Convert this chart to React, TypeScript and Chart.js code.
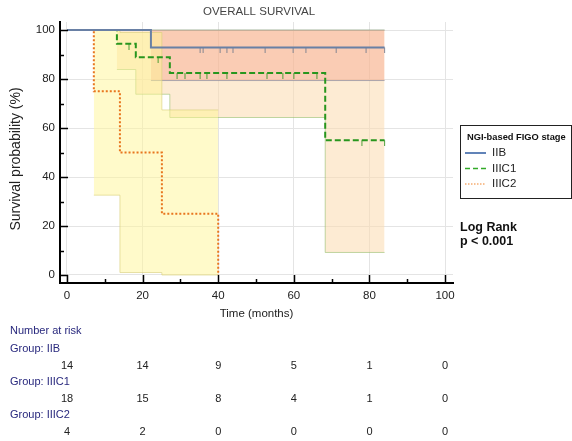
import React, { useEffect, useRef } from "react";
import { Chart, registerables } from "chart.js";
Chart.register(...registerables);

const FONT = "'Liberation Sans', Arial, sans-serif";

// ---- Kaplan–Meier data (time in months, survival in %) ----
const groups = ["IIB", "IIIC1", "IIIC2"];

const iibTimes = [0, 22.2, 84];
const iibSurv = [100, 92.9, 92.9];
const iibCensor = [35.2, 36, 40.5, 42.3, 43.9, 52.4, 59.8, 63.2, 71.2, 79.1, 84];
const iibCiTimes = [22.2, 84];
const iibCiLow = [79.4, 79.4];
const iibCiHigh = [100, 100];

const iiic1Times = [0, 13.2, 18.2, 27.2, 68.3, 84];
const iiic1Surv = [100, 94.4, 88.9, 82.5, 55.0, 55.0];
const iiic1Censor = [16.4, 24.1, 29.1, 31.2, 35.2, 37, 42.3, 52.9, 57.1, 60, 66.1, 78, 84];
const iiic1CiTimes = [13.2, 18.2, 27.2, 68.3, 84];
const iiic1CiLow = [83.9, 73.8, 64.3, 9.2, 9.2];
const iiic1CiHigh = [100, 100, 100, 100, 100];

const iiic2Times = [0, 7.1, 14, 25.1, 40];
const iiic2Surv = [100, 75, 50, 25, 0];
const iiic2CiTimes = [7.1, 14, 25.1, 40];
const iiic2CiLow = [32.6, 1, 0, 0];
const iiic2CiHigh = [100, 99, 67.4, 67.4];

// ---- axes / table ----
const xTicks = [0, 20, 40, 60, 80, 100];
const yTicks = [0, 20, 40, 60, 80, 100];
const riskTimes = [0, 20, 40, 60, 80, 100];
const riskIIB = [14, 14, 9, 5, 1, 0];
const riskIIIC1 = [18, 15, 8, 4, 1, 0];
const riskIIIC2 = [4, 2, 0, 0, 0, 0];

const COL_IIB = "rgb(105,128,165)";
const COL_IIIC1 = "rgb(40,150,30)";
const COL_IIIC2 = "rgb(232,118,30)";

const xy = (xs: number[], ys: number[]) => xs.map((x, i) => ({ x, y: ys[i] }));
const stepValue = (times: number[], surv: number[], t: number) => {
  let v = surv[0];
  for (let i = 0; i < times.length; i++) if (times[i] <= t) v = surv[i];
  return v;
};

function makeTick(color: string) {
  const c = document.createElement("canvas");
  c.width = 3;
  c.height = 12;
  const g = c.getContext("2d")!;
  g.strokeStyle = color;
  g.lineWidth = 1;
  g.beginPath();
  g.moveTo(1.5, 6);
  g.lineTo(1.5, 12);
  g.stroke();
  return c;
}

export default function App() {
  const ref = useRef<HTMLCanvasElement | null>(null);

  useEffect(() => {
    document.body.style.margin = "0";
    const canvas = ref.current!;
    const tickIIB = makeTick("rgba(120,125,140,0.9)");
    const tickIIIC1 = makeTick("rgba(60,150,40,0.9)");

    const line = (label: string, d: any[], color: string, dash: number[]) => ({
      type: "line" as const,
      label,
      data: d,
      borderColor: color,
      borderWidth: 2,
      borderDash: dash,
      stepped: "before" as const,
      pointRadius: 0,
      fill: false,
      order: 0,
    });
    const censor = (d: any[], img: HTMLCanvasElement) => ({
      type: "scatter" as const,
      data: d,
      pointStyle: img,
      pointRadius: 6,
      showLine: false,
      order: 1,
    });
    const bandLow = (d: any[], border: string, order: number) => ({
      type: "line" as const,
      data: d,
      borderColor: border,
      borderWidth: 1,
      stepped: "before" as const,
      pointRadius: 0,
      fill: false,
      order,
    });
    const bandHigh = (d: any[], border: string, bg: string, order: number) => ({
      type: "line" as const,
      data: d,
      borderColor: border,
      borderWidth: 1,
      backgroundColor: bg,
      stepped: "before" as const,
      pointRadius: 0,
      fill: "-1",
      order,
    });

    const overlay = {
      id: "overlay",
      afterDraw(chart: any) {
        const ctx = chart.ctx as CanvasRenderingContext2D;
        const xs = chart.scales.x;
        const ys = chart.scales.y;
        const area = chart.chartArea;
        ctx.save();
        // inward tick marks
        ctx.strokeStyle = "#000";
        ctx.lineWidth = 1.5;
        for (let v = 0; v <= 100; v += 10) {
          const len = v % 20 === 0 ? 8 : 4;
          const px = Math.round(xs.getPixelForValue(v)) + 0.5;
          ctx.beginPath();
          ctx.moveTo(px, area.bottom);
          ctx.lineTo(px, area.bottom - len);
          ctx.stroke();
          const py = Math.round(ys.getPixelForValue(v)) + 0.5;
          ctx.beginPath();
          ctx.moveTo(area.left, py);
          ctx.lineTo(area.left + len, py);
          ctx.stroke();
        }
        // titles
        ctx.fillStyle = "#444";
        ctx.font = `11.5px ${FONT}`;
        ctx.textAlign = "center";
        ctx.textBaseline = "middle";
        ctx.fillText("OVERALL SURVIVAL", 259, 12);
        ctx.fillStyle = "#222";
        ctx.fillText("Time (months)", (area.left + area.right) / 2, 314);
        ctx.save();
        ctx.translate(16, 159);
        ctx.rotate(-Math.PI / 2);
        ctx.font = `14px ${FONT}`;
        ctx.fillText("Survival probability (%)", 0, 0);
        ctx.restore();

        // legend box
        ctx.strokeStyle = "#222";
        ctx.lineWidth = 1;
        ctx.strokeRect(460.5, 125.5, 111, 73);
        ctx.fillStyle = "#111";
        ctx.textAlign = "left";
        ctx.font = `bold 9.3px ${FONT}`;
        ctx.fillText("NGI-based FIGO stage", 467, 137);
        const legCols = ["rgb(45,90,160)", "rgb(50,170,40)", "rgb(240,130,40)"];
        const legDash = [[], [5, 3], [1.5, 1.5]];
        const legW = [1.5, 1.5, 1];
        const legY = [153, 168.5, 184];
        ctx.font = `11.5px ${FONT}`;
        groups.forEach((g, i) => {
          ctx.save();
          ctx.strokeStyle = legCols[i];
          ctx.lineWidth = legW[i];
          ctx.setLineDash(legDash[i]);
          ctx.beginPath();
          ctx.moveTo(465, legY[i]);
          ctx.lineTo(486, legY[i]);
          ctx.stroke();
          ctx.restore();
          ctx.fillStyle = "#222";
          ctx.fillText(g, 492, legY[i]);
        });
        ctx.font = `bold 12.5px ${FONT}`;
        ctx.fillStyle = "#111";
        ctx.fillText("Log Rank", 460, 228);
        ctx.fillText("p < 0.001", 460, 242);

        // number at risk table
        const navy = "rgb(40,40,125)";
        ctx.font = `11px ${FONT}`;
        ctx.fillStyle = navy;
        ctx.fillText("Number at risk", 10, 331);
        const rows = [riskIIB, riskIIIC1, riskIIIC2];
        const groupY = [349, 382, 415];
        const numY = [366, 399, 432];
        rows.forEach((r, i) => {
          ctx.textAlign = "left";
          ctx.fillStyle = navy;
          ctx.fillText("Group: " + groups[i], 10, groupY[i]);
          ctx.textAlign = "center";
          ctx.fillStyle = "#222";
          r.forEach((n, j) => {
            ctx.fillText(String(n), xs.getPixelForValue(riskTimes[j]), numY[i]);
          });
        });
        ctx.restore();
      },
    };

    const chart = new Chart(canvas, {
      type: "line",
      data: {
        datasets: [
          line("IIB", xy(iibTimes, iibSurv), COL_IIB, []),
          line("IIIC1", xy(iiic1Times, iiic1Surv), COL_IIIC1, [6, 3]),
          line("IIIC2", xy(iiic2Times, iiic2Surv), COL_IIIC2, [2, 2]),
          censor(iibCensor.map((t) => ({ x: t, y: stepValue(iibTimes, iibSurv, t) })), tickIIB),
          censor(iiic1Censor.map((t) => ({ x: t, y: stepValue(iiic1Times, iiic1Surv, t) })), tickIIIC1),
          bandLow(xy(iiic1CiTimes, iiic1CiLow), "rgba(150,190,110,0.6)", 6),
          bandHigh(xy(iiic1CiTimes, iiic1CiHigh), "rgba(150,190,110,0.6)", "rgba(252,218,175,0.55)", 6),
          bandLow(xy(iibCiTimes, iibCiLow), "rgba(150,150,165,0.8)", 5),
          bandHigh(xy(iibCiTimes, iibCiHigh), "rgba(150,150,165,0.5)", "rgba(245,125,100,0.28)", 5),
          bandLow(xy(iiic2CiTimes, iiic2CiLow), "rgba(215,205,120,0.6)", 4),
          bandHigh(xy(iiic2CiTimes, iiic2CiHigh), "rgba(215,205,120,0.6)", "rgba(255,245,150,0.5)", 4),
        ] as any,
      },
      options: {
        responsive: false,
        animation: false,
        events: [],
        layout: { padding: { top: 22, right: 119, left: 0, bottom: 0 } },
        plugins: { legend: { display: false }, tooltip: { enabled: false }, title: { display: false } },
        scales: {
          x: {
            type: "linear",
            min: -1.85,
            max: 102.1,
            afterBuildTicks: (s: any) => {
              s.ticks = xTicks.map((v) => ({ value: v }));
            },
            afterFit: (s: any) => {
              s.height = 158;
            },
            grid: { color: "rgb(228,228,228)", lineWidth: 1, drawTicks: false },
            border: { display: true, color: "#000", width: 2 },
            ticks: { padding: 6, color: "#222", font: { family: FONT, size: 11.5 }, maxRotation: 0, autoSkip: false },
          },
          y: {
            type: "linear",
            min: -3.27,
            max: 103.3,
            afterBuildTicks: (s: any) => {
              s.ticks = yTicks.map((v) => ({ value: v }));
            },
            afterFit: (s: any) => {
              s.width = 60;
            },
            grid: { color: "rgb(228,228,228)", lineWidth: 1, drawTicks: false },
            border: { display: true, color: "#000", width: 2 },
            ticks: { padding: 5, color: "#222", font: { family: FONT, size: 11.5 }, autoSkip: false },
          },
        },
      },
      plugins: [overlay],
    } as any);

    return () => chart.destroy();
  }, []);

  return (
    <div style={{ position: "absolute", left: 0, top: 0, width: 572, height: 441 }}>
      <canvas ref={ref} width={572} height={441} />
    </div>
  );
}
